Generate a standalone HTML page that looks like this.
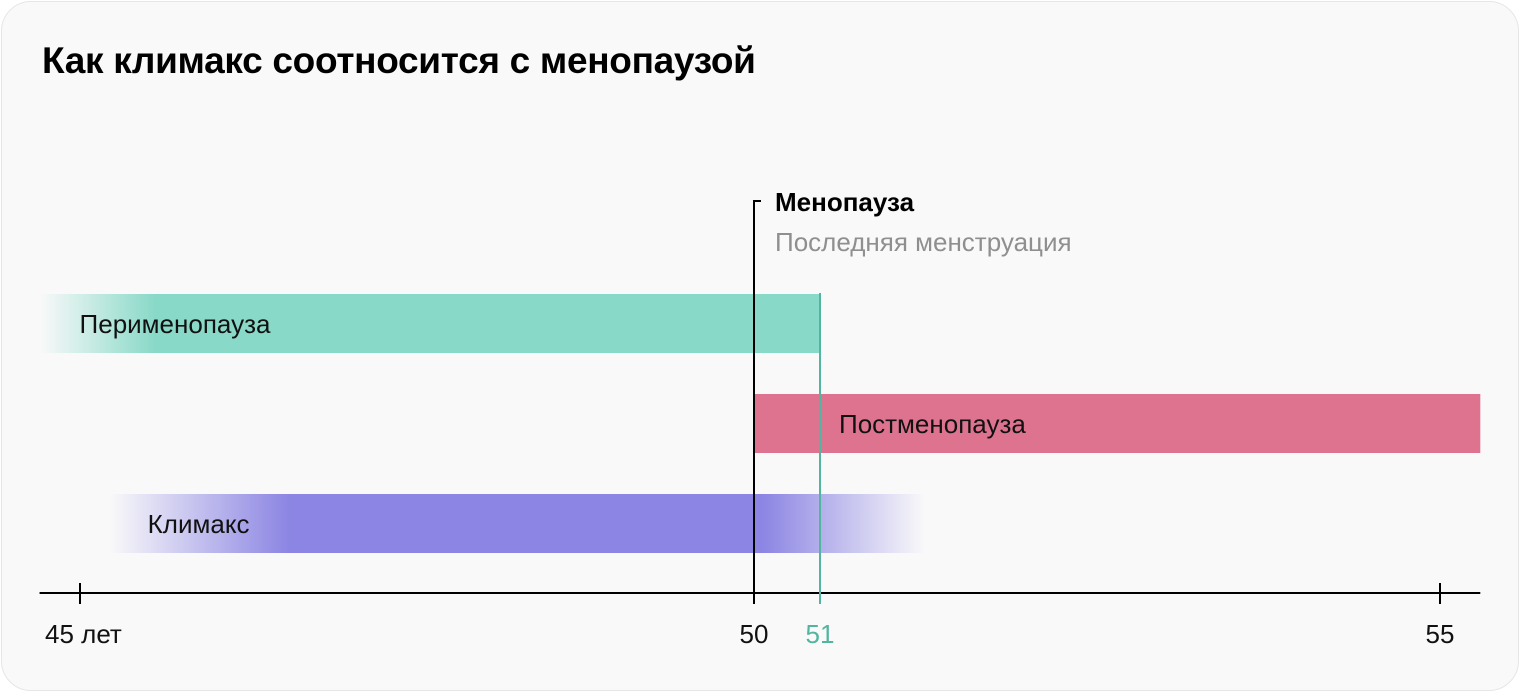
<!DOCTYPE html>
<html><head><meta charset="utf-8"><style>
html,body{margin:0;padding:0;background:#fff;}
.card{position:absolute;left:1px;top:1px;width:1516px;height:688px;border:1px solid #e6e6e6;border-radius:30px;background:#f9f9f9;overflow:hidden;}
h1{position:absolute;left:40px;top:38px;margin:0;font:bold 37px "Liberation Sans",sans-serif;color:#000;letter-spacing:-0.3px;}
svg{position:absolute;left:0;top:0;}
text{font-family:"Liberation Sans",sans-serif;}
</style></head><body>
<div class="card">
<h1>Как климакс соотносится с менопаузой</h1>
</div>
<svg id="chart" width="1520" height="692">
<defs>
<linearGradient id="gPeri" gradientUnits="userSpaceOnUse" x1="40" x2="155" y1="0" y2="0"><stop offset="0" stop-color="#89d9c8" stop-opacity="0"/><stop offset="1" stop-color="#89d9c8"/></linearGradient>
<linearGradient id="gKlim" gradientUnits="userSpaceOnUse" x1="110" x2="925" y1="0" y2="0">
<stop offset="0" stop-color="#8c85e3" stop-opacity="0"/><stop offset="0.22" stop-color="#8c85e3"/><stop offset="0.8" stop-color="#8c85e3"/><stop offset="1" stop-color="#8c85e3" stop-opacity="0"/></linearGradient>
</defs>
</svg>
<script>
const tickValues=[45,50,51,55];
const tickLabels=["45 лет","50","51","55"];
const barNames=["Перименопауза","Постменопауза","Климакс"];
const barStart=[44.7,50,45.22];
const barEnd=[51,55.26,51.68];
const menopauseAge=50;
const lastAge=51;
const axisStart=44.7, axisEnd=55.26;

const kd=[45,50,51,55], kr=[80,754,820,1440];
function x(v){
  let i=0;
  if(v<=kd[0]) i=0; else if(v>=kd[kd.length-1]) i=kd.length-2;
  else while(v>kd[i+1]) i++;
  return kr[i]+(v-kd[i])*(kr[i+1]-kr[i])/(kd[i+1]-kd[i]);
}
const NS="http://www.w3.org/2000/svg";
const svg=document.getElementById('chart');
function mk(t,a,txt){const e=document.createElementNS(NS,t);for(const k in a)e.setAttribute(k,a[k]);if(txt!==undefined)e.textContent=txt;svg.appendChild(e);return e;}
const rowY=[294,394,494], fills=["url(#gPeri)","#de7390","url(#gKlim)"], labelDx=[40,85,38];
const barKeys=["bar-perimenopause","bar-postmenopause","bar-climax"];
const labKeys=["label-perimenopause","label-postmenopause","label-climax"];
for(let i=0;i<barNames.length;i++){
  const r=mk('rect',{x:x(barStart[i]),y:rowY[i],width:x(barEnd[i])-x(barStart[i]),height:59,fill:fills[i]});
  
  
  const lx=(i==1?x(barStart[i]):x(barStart[i]))+labelDx[i];
  const t=mk('text',{x:lx,y:rowY[i]+39,'font-size':26,fill:'#111'},barNames[i]);
  
  
}
// axis
const ax=mk('line',{x1:x(axisStart),x2:x(axisEnd),y1:593,y2:593,stroke:'#000','stroke-width':2});


// menopause line
const mx=x(menopauseAge);
const ml=mk('path',{d:`M${mx+7} 201 H${mx} V604`,fill:'none',stroke:'#000','stroke-width':2});


const t1=mk('text',{x:mx+21,y:211,'font-size':26,'font-weight':'bold',fill:'#000'},'Менопауза');


const t2=mk('text',{x:mx+21,y:251,'font-size':26,fill:'#8f8f8f'},'Последняя менструация');


const lx2=x(lastAge);
const gl=mk('line',{x1:lx2,x2:lx2,y1:293,y2:604,stroke:'#52b5a0','stroke-width':2});


for(let i=0;i<tickValues.length;i++){
  const tx=x(tickValues[i]);
  if(tickValues[i]!==menopauseAge && tickValues[i]!==lastAge){
    const tk=mk('line',{x1:tx,x2:tx,y1:583,y2:604,stroke:'#000','stroke-width':2});
    
    
  }
  const anchor=i==0?'start':'middle';
  const lab=mk('text',{x:i==0?tx-35:tx,y:643,'font-size':26,'text-anchor':anchor,fill:tickValues[i]===lastAge?'#52b5a0':'#111'},tickLabels[i]);
  
  
}
</script>
</body></html>
